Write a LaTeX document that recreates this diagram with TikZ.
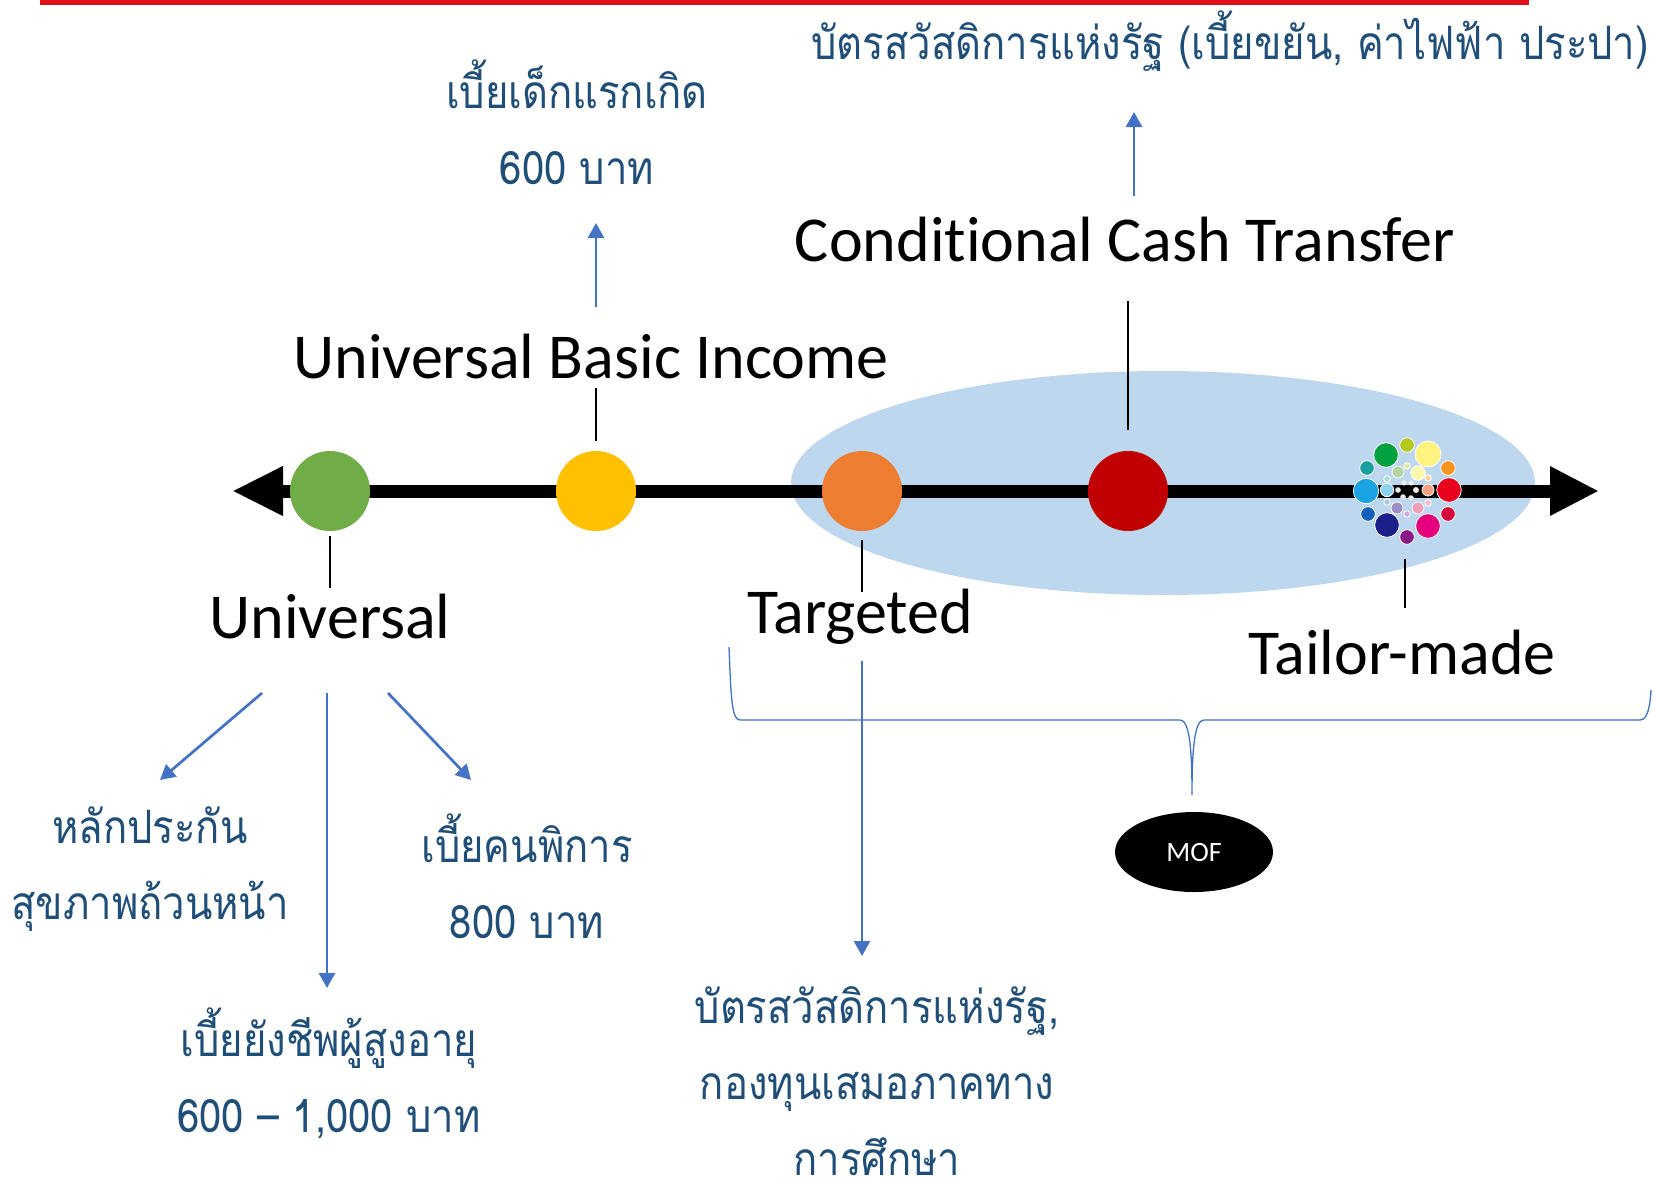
\documentclass[tikz,border=0pt]{standalone}
\usepackage{fontspec}
\setmainfont{Carlito}[Ligatures=NoCommon]
\newfontfamily\thaifont[Script=Thai,FakeStretch=0.87]{Loma}
\usetikzlibrary{arrows.meta,shapes.geometric}
\definecolor{linkblue}{HTML}{4472C4}
\definecolor{thaiblue}{HTML}{1F4E79}
\definecolor{ellblue}{HTML}{BDD7EE}
\definecolor{slidered}{HTML}{E0101A}
\definecolor{cgreen}{HTML}{70AD47}
\definecolor{cyellow}{HTML}{FFC000}
\definecolor{corange}{HTML}{ED7D31}
\definecolor{cred}{HTML}{C00000}
\begin{document}
\begin{tikzpicture}[x=1pt,y=-1pt,
  dot/.style={circle, minimum size=80pt, inner sep=0pt},
  biglabel/.style={font=\fontsize{64}{70}\selectfont, text=black, inner sep=0pt},
  thailabel/.style={font=\thaifont\fontsize{46}{76}\selectfont, text=thaiblue, align=center, inner sep=0pt},
  tick/.style={draw=black, line width=1.3pt},
  link/.style={draw=linkblue, line width=2.7pt, -{Triangle[length=15pt,width=16pt]}},
  cl/.style={draw=white, line width=0.8pt}
]
\useasboundingbox (0,0) rectangle (1653,1179);
\fill[white] (0,0) rectangle (1653,1179);
\fill[slidered] (40,0) rectangle (1529,5);

% light blue zone
\node[ellipse, fill=ellblue, minimum width=744pt, minimum height=224pt, inner sep=0pt] (zone) at (1163,483) {};

% axis
\coordinate (axL) at (232,491);
\coordinate (axR) at (1599,491);
\draw[line width=13pt, {Triangle[length=51pt,width=46pt]}-{Triangle[length=49pt,width=46pt]}] (axL) -- (axR);

% dots
\node[dot, fill=cgreen] (cU) at (330,491) {};
\node[dot, fill=cyellow] (cB) at (596,491) {};
\node[dot, fill=corange] (cT) at (862,491) {};
\node[dot, fill=cred] (cC) at (1128,491) {};

% multicolour cluster
\coordinate (cM) at (1405,490);
\begin{scope}
\fill[cl, fill={rgb,255:red,0;green,160;blue,60}] (1386,455) circle (12.3);
\fill[cl, fill={rgb,255:red,181;green,200;blue,30}] (1407,445) circle (7.3);
\fill[cl, fill={rgb,255:red,255;green,243;blue,128}] (1428,454) circle (13);
\fill[cl, fill={rgb,255:red,247;green,148;blue,29}] (1448,468) circle (7.3);
\fill[cl, fill={rgb,255:red,232;green,0;blue,28}] (1449,490) circle (12.3);
\fill[cl, fill={rgb,255:red,214;green,8;blue,59}] (1448,514) circle (7.3);
\fill[cl, fill={rgb,255:red,229;green,0;blue,126}] (1428,526) circle (12.3);
\fill[cl, fill={rgb,255:red,139;green,26;blue,137}] (1407,537) circle (7.3);
\fill[cl, fill={rgb,255:red,27;green,31;blue,138}] (1387,525) circle (12.3);
\fill[cl, fill={rgb,255:red,21;green,96;blue,189}] (1368,514) circle (7.3);
\fill[cl, fill={rgb,255:red,26;green,163;blue,227}] (1366,491) circle (12.7);
\fill[cl, fill={rgb,255:red,27;green,158;blue,158}] (1367,468) circle (7.3);
\fill[cl, fill={rgb,255:red,181;green,214;blue,160}] (1398,472) circle (6);
\fill[cl, fill={rgb,255:red,225;green,232;blue,170}] (1407,466) circle (3.3);
\fill[cl, fill={rgb,255:red,255;green,249;blue,176}] (1418,473) circle (7.3);
\fill[cl, fill={rgb,255:red,250;green,210;blue,160}] (1428,478) circle (3.3);
\fill[cl, fill={rgb,255:red,247;green,160;blue,130}] (1428,490) circle (6);
\fill[cl, fill={rgb,255:red,245;green,190;blue,200}] (1428,503) circle (3.3);
\fill[cl, fill={rgb,255:red,240;green,160;blue,184}] (1418,508) circle (6);
\fill[cl, fill={rgb,255:red,210;green,170;blue,220}] (1407,514) circle (3.3);
\fill[cl, fill={rgb,255:red,157;green,142;blue,200}] (1397,508) circle (6);
\fill[cl, fill={rgb,255:red,170;green,200;blue,235}] (1387,502) circle (3.3);
\fill[cl, fill={rgb,255:red,141;green,211;blue,240}] (1387,490) circle (6.7);
\fill[cl, fill={rgb,255:red,170;green,220;blue,215}] (1387,479) circle (3.3);
\fill[fill={rgb,255:red,235;green,235;blue,230}] (1398,490) circle (2.8);
\fill[fill={rgb,255:red,240;green,240;blue,235}] (1404,483) circle (2.5);
\fill[fill={rgb,255:red,240;green,240;blue,235}] (1411,483) circle (2.5);
\fill[fill={rgb,255:red,240;green,235;blue,230}] (1416,490) circle (3);
\fill[fill={rgb,255:red,235;green,230;blue,235}] (1411,498) circle (2.8);
\fill[fill={rgb,255:red,230;green,230;blue,240}] (1403,497) circle (2.8);
\end{scope}

% black labels
\node[biglabel] (lUBI) at (591,357) {Universal Basic Income};
\node[biglabel] (lCCT) at (1125,240) {Conditional Cash Transfer};
\node[biglabel] (lU) at (330,617) {Universal};
\node[biglabel] (lT) at (860,617) {Targeted};
\node[biglabel] (lTM) at (1402,653) {Tailor-made};

% tick lines
\coordinate (tB1) at (596,388); \coordinate (tB2) at (596,441);
\coordinate (tC1) at (1128,301); \coordinate (tC2) at (1128,430);
\coordinate (tU1) at (330,536); \coordinate (tU2) at (330,588);
\coordinate (tT1) at (862,540); \coordinate (tT2) at (862,592);
\coordinate (tM1) at (1405,559); \coordinate (tM2) at (1405,608);
\draw[tick] (tB1) -- (tB2);
\draw[tick] (tC1) -- (tC2);
\draw[tick] (tU1) -- (tU2);
\draw[tick] (tT1) -- (tT2);
\draw[tick] (tM1) -- (tM2);

% thai labels
\node[thailabel] (tChild) at (577,122) {เบี้ยเด็กแรกเกิด\\600 บาท};
\node[thailabel] (tCard) at (1230,41) {บัตรสวัสดิการแห่งรัฐ (เบี้ยขยัน, ค่าไฟฟ้า ประปา)};
\node[thailabel] (tHealth) at (150,869) {หลักประกัน\\สุขภาพถ้วนหน้า};
\node[thailabel] (tDis) at (527,876) {เบี้ยคนพิการ\\800 บาท};
\node[thailabel] (tOld) at (329,1073) {เบี้ยยังชีพผู้สูงอายุ\\600 – 1,000 บาท};
\node[thailabel, anchor=north] (tEdu) at (877,986) {บัตรสวัสดิการแห่งรัฐ,\\กองทุนเสมอภาคทาง\\การศึกษา};

% blue arrows
\coordinate (aB1) at (596,307); \coordinate (aB2) at (596,223);
\coordinate (aC1) at (1134,196); \coordinate (aC2) at (1134,112);
\coordinate (aU1) at (262,693); \coordinate (aU2) at (160,780);
\coordinate (aV1) at (327,693); \coordinate (aV2) at (327,988);
\coordinate (aW1) at (388,693); \coordinate (aW2) at (471,780);
\coordinate (aT1) at (862,661); \coordinate (aT2) at (862,956);
\draw[link] (aB1) -- (aB2);
\draw[link] (aC1) -- (aC2);
\draw[link] (aU1) -- (aU2);
\draw[link] (aV1) -- (aV2);
\draw[link] (aW1) -- (aW2);
\draw[link] (aT1) -- (aT2);

% brace
\draw[linkblue, line width=1.3pt] (729,647) .. controls (731,700) and (732,720) .. (740,720) -- (1180,720) .. controls (1189,720) and (1192,745) .. (1192,795) .. controls (1192,745) and (1195,720) .. (1204,720) -- (1640,720) .. controls (1648,720) and (1650,705) .. (1651,690);

% MOF
\node[ellipse, fill=black, minimum width=158pt, minimum height=80pt, inner sep=0pt, text=white, font=\fontsize{28}{30}\selectfont] (mof) at (1194,852) {MOF};
\end{tikzpicture}
\end{document}
